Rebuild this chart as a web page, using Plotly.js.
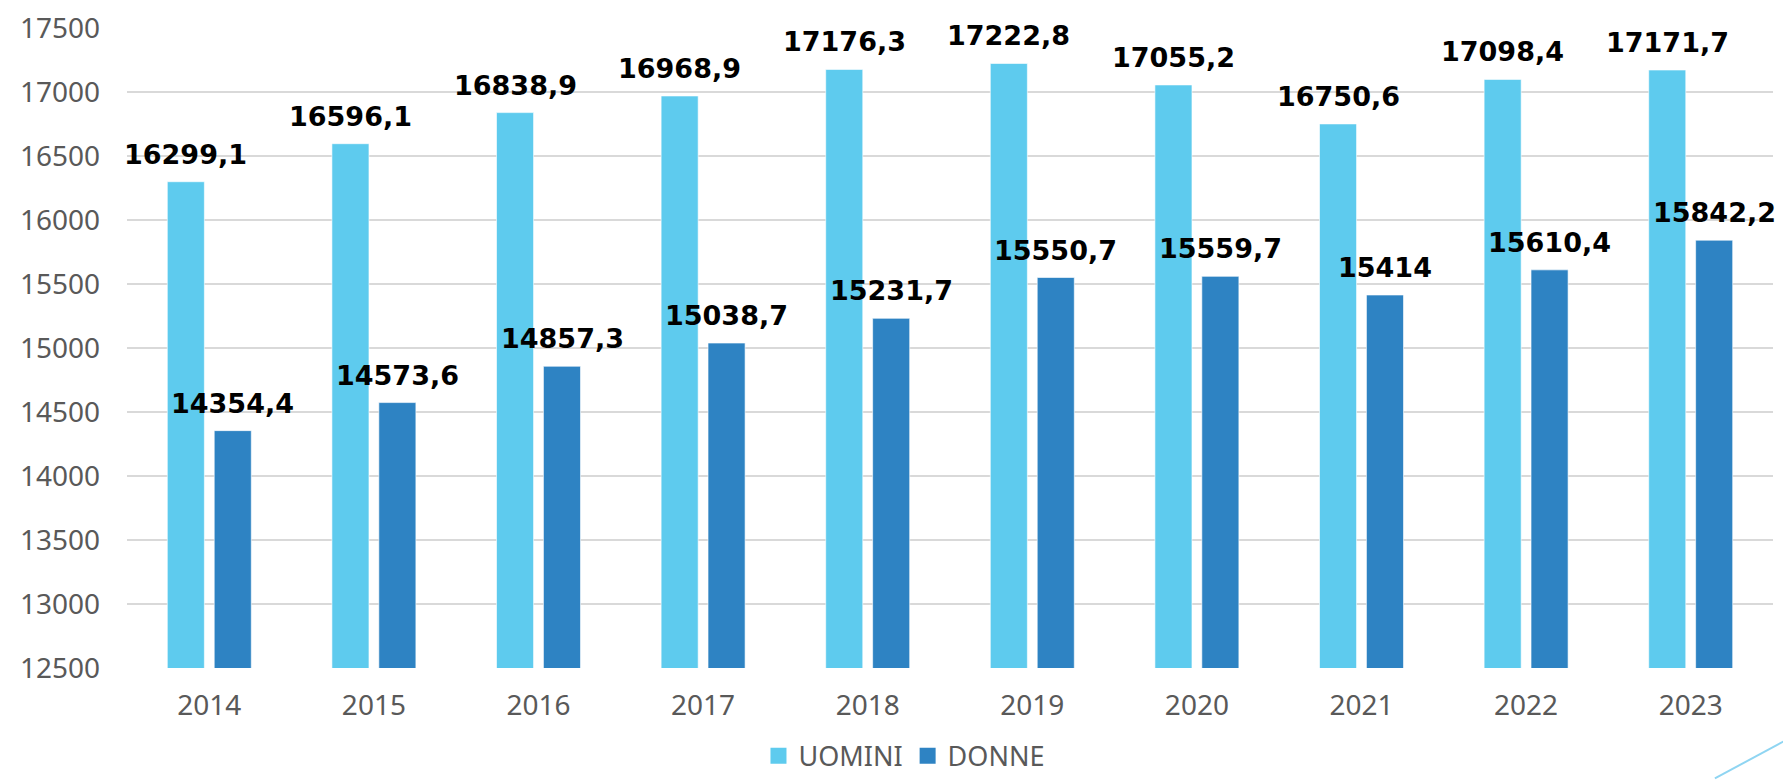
<!DOCTYPE html>
<html>
<head>
<meta charset="utf-8">
<script src="https://cdn.plot.ly/plotly-3.0.1.min.js"></script>
<style>html,body{margin:0;padding:0;background:#fff;}#chart{width:1783px;height:783px;}</style>
</head>
<body>
<div id="chart"></div>
<script>
const years = ['2014','2015','2016','2017','2018','2019','2020','2021','2022','2023'];
const uomini = [16299.1,16596.1,16838.9,16968.9,17176.3,17222.8,17055.2,16750.6,17098.4,17171.7];
const donne = [14354.4,14573.6,14857.3,15038.7,15231.7,15550.7,15559.7,15414,15610.4,15842.2];
const seriesNames = ['UOMINI','DONNE'];
const yTicks = [12500,13000,13500,14000,14500,15000,15500,16000,16500,17000,17500];

const fmt = v => String(v).replace('.', ',');
const colors = ['#5ECBEE','#2E83C3'];

const traces = [uomini, donne].map((vals, i) => ({
  type: 'bar',
  name: seriesNames[i],
  x: years,
  y: vals,
  showlegend: false,
  marker: {color: colors[i], line: {color: 'rgba(255,255,255,0.6)', width: 1}},
  hoverinfo: 'x+y'
}));

// legend entries with larger square swatches
seriesNames.forEach((n, i) => {
  traces.push({
    type: 'scatter', mode: 'markers', name: n,
    x: [null], y: [null],
    marker: {symbol: 'square', size: 16, color: colors[i]},
    showlegend: true, hoverinfo: 'skip'
  });
});

const annotations = [];
[uomini, donne].forEach((vals, i) => {
  vals.forEach((v, j) => {
    annotations.push({
      x: j, y: v, xref: 'x', yref: 'y',
      text: fmt(v), showarrow: false,
      xanchor: 'center', yanchor: 'bottom',
      xshift: i === 0 ? -23.5 : 23.5, yshift: 10,
      font: {family: 'DejaVu Sans', size: 27, color: '#000', weight: 'bold'}
    });
  });
});

const layout = {
  width: 1783, height: 783,
  margin: {l: 127, r: 10, t: 28, b: 115},
  paper_bgcolor: '#fff', plot_bgcolor: '#fff',
  barmode: 'group', bargap: 0.43, bargroupgap: 0.21,
  font: {family: 'Noto Sans, Open Sans, sans-serif', size: 28, color: '#595959'},
  xaxis: {
    type: 'category', range: [-0.5, years.length - 0.5], autorange: false,
    showgrid: false, zeroline: false, showline: false,
    ticks: '', ticklabelstandoff: 18,
    tickfont: {size: 28, color: '#595959'}
  },
  yaxis: {
    range: [12500, 17500], autorange: false, tickvals: yTicks, ticktext: yTicks.map(String),
    showgrid: true, gridcolor: '#D9D9D9', gridwidth: 1.5,
    zeroline: false, showline: false, ticks: '', ticklabelstandoff: 26,
    tickfont: {size: 28, color: '#595959'}
  },
  legend: {
    orientation: 'h', xref: 'container', yref: 'container',
    x: 0.507, xanchor: 'center', y: 0.003, yanchor: 'bottom',
    font: {size: 27, color: '#595959'}, itemwidth: 30, traceorder: 'normal',
    bgcolor: 'rgba(0,0,0,0)'
  },
  annotations: annotations,
  shapes: [{
    type: 'line', xref: 'paper', yref: 'paper',
    x0: 1.0063, y0: -0.1149, x1: 0.9647, y1: -0.1725,
    line: {color: '#8FD5F2', width: 2}
  }]
};

Plotly.newPlot('chart', traces, layout, {displayModeBar: false, staticPlot: true});
</script>
</body>
</html>
